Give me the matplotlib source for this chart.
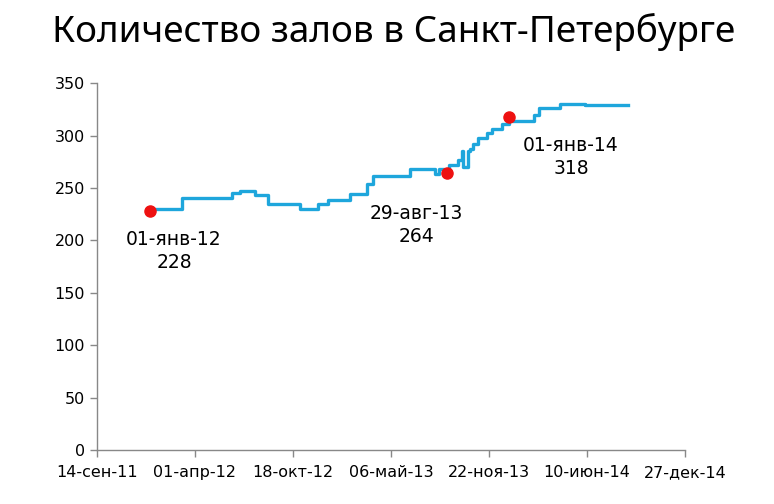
import numpy as np
import pandas as pd
from matplotlib import pyplot as plt

# step data: date of change -> number of halls
step_dates = ['2012-01-01', '2012-03-05', '2012-06-15', '2012-07-02', '2012-08-01',
              '2012-08-28', '2012-11-01', '2012-12-08', '2012-12-28', '2013-02-11',
              '2013-03-18', '2013-03-30', '2013-06-13', '2013-08-03', '2013-08-12',
              '2013-08-22', '2013-09-01', '2013-09-19', '2013-09-27', '2013-09-29',
              '2013-10-10', '2013-10-14', '2013-10-20', '2013-10-30', '2013-11-17',
              '2013-11-29', '2013-12-18', '2014-01-01', '2014-01-08', '2014-02-22',
              '2014-03-05', '2014-04-15', '2014-06-05', '2014-09-01']
step_values = [230, 240, 245, 247, 243,
               235, 230, 235, 239, 244,
               254, 261, 268, 263, 268,
               264, 272, 277, 285, 270,
               285, 287, 292, 298, 302,
               306, 311, 318, 314, 320,
               326, 330, 329, 329]

# highlighted points
mark_dates = ['2012-01-01', '2013-08-29', '2014-01-01']
mark_values = [228, 264, 318]
mark_labels = ['01-янв-12', '29-авг-13', '01-янв-14']

tick_dates = ['2011-09-14', '2012-04-01', '2012-10-18', '2013-05-06',
              '2013-11-22', '2014-06-10', '2014-12-27']
tick_labels = ['14-сен-11', '01-апр-12', '18-окт-12', '06-май-13',
               '22-ноя-13', '10-июн-14', '27-дек-14']

x = pd.to_datetime(step_dates)
mx = pd.to_datetime(mark_dates)
tx = pd.to_datetime(tick_dates)

fig = plt.figure(figsize=(7.74, 5.04), dpi=100)
ax = fig.add_axes([0.1253, 0.107, 0.7597, 0.728])

ax.plot(x, step_values, drawstyle='steps-post', color='#1ea6dc', lw=2.4, zorder=2)
ax.plot(mx, mark_values, 'o', color='#ee1111', ms=8, zorder=3)

# data labels, offsets in points
offsets = [(17, -29), (-22, -37), (45, -29)]
for d, v, lab, off in zip(mx, mark_values, mark_labels, offsets):
    ax.annotate(lab + '\n' + str(v), (d, v), xytext=off, textcoords='offset points',
                ha='center', va='center', fontsize=13.5, linespacing=1.25)

ax.set_xlim(tx[0], tx[-1])
ax.set_ylim(0, 350)
ax.set_yticks(np.arange(0, 351, 50))
ax.set_xticks(tx)
ax.set_xticklabels(tick_labels)

for s in ['top', 'right']:
    ax.spines[s].set_visible(False)
for s in ['left', 'bottom']:
    ax.spines[s].set_color('#888888')
    ax.spines[s].set_linewidth(1)
ax.tick_params(axis='both', colors='#888888', labelcolor='black', labelsize=11.5,
               length=5, width=1)
ax.tick_params(axis='x', pad=6)

fig.text(0.508, 0.937, 'Количество залов в Санкт-Петербурге', ha='center', va='center',
         fontsize=26.5, family='Noto Sans')

fig.savefig('out.png', dpi=100)
